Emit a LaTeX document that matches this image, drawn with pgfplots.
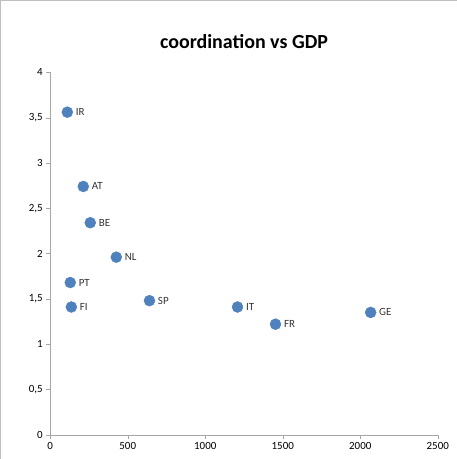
\documentclass[border=0pt]{standalone}
\usepackage{pgfplots}
\pgfplotsset{compat=1.18}
\usepackage{fontspec}
\setmainfont{Carlito}
\begin{document}
\begin{tikzpicture}
\draw[gray!50] (-50bp,-24bp) rectangle (406bp,434bp);
\begin{axis}[
  at={(0,0)}, anchor=south west,
  scale only axis, width=387bp, height=362bp,
  xmin=0, xmax=2500, ymin=0, ymax=4,
  xtick={0,500,...,2500}, ytick={0,0.5,...,4},
  axis x line=bottom, axis y line=left,
  axis line style={-, gray!70}, tick style={gray!70},
  tick align=outside, major tick length=4bp,
  /pgf/number format/assume math mode=true,
  /pgf/number format/use comma,
  yticklabel style={/pgf/number format/fixed, /pgf/number format/precision=1},
  xticklabel style={/pgf/number format/1000 sep={}},
  ticklabel style={font=\fontsize{11}{13}\selectfont},
  title={\bfseries coordination vs GDP}, title style={font=\fontsize{20}{24}\selectfont\bfseries, yshift=14bp},
  nodes near coords, point meta=explicit symbolic,
  every node near coord/.append style={anchor=west, xshift=5bp, font=\fontsize{11}{13}\selectfont, text=black!80},
]
\addplot[only marks, mark=*, mark size=5.5bp, color={rgb,255:red,79;green,129;blue,189}] table[meta=l] {
x y l
110 3.56 IR
213 2.74 AT
258 2.34 BE
426 1.96 NL
129 1.68 PT
136 1.41 FI
640 1.48 SP
1208 1.41 IT
1453 1.22 FR
2067 1.35 GE
};
\end{axis}
\end{tikzpicture}
\end{document}
